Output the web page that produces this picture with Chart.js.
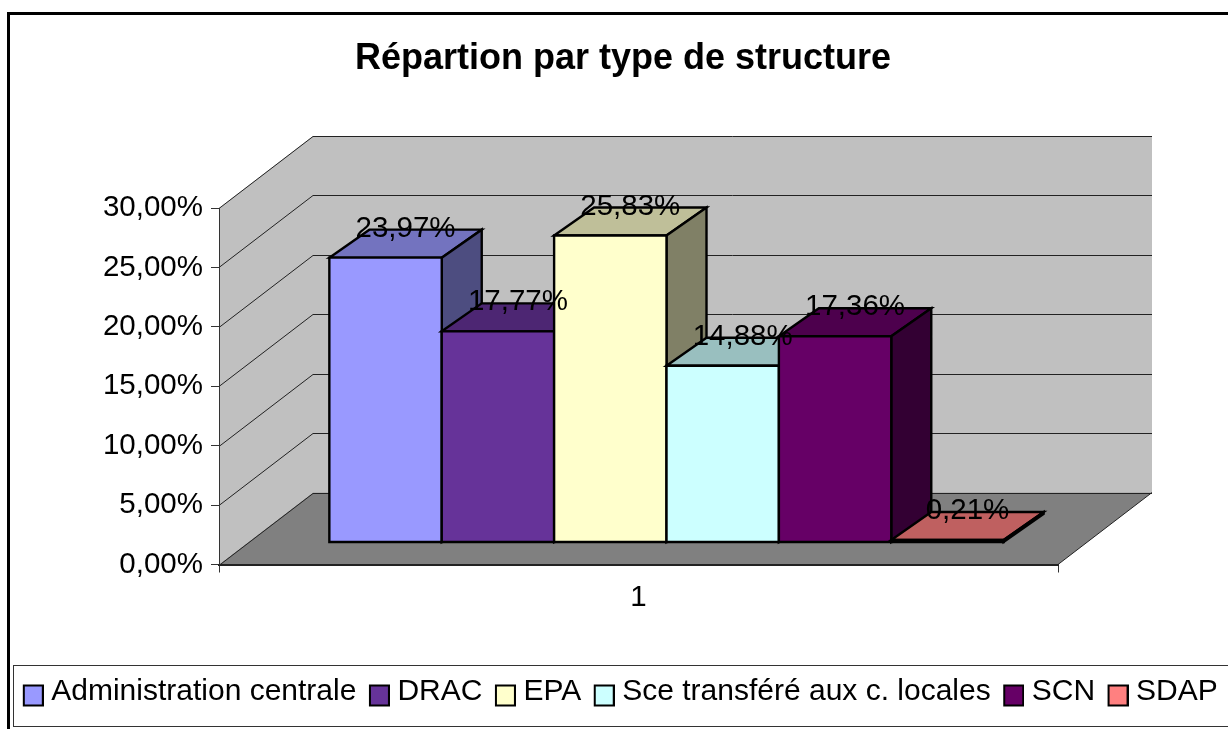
<!DOCTYPE html>
<html>
<head>
<meta charset="utf-8">
<title>Répartion par type de structure</title>
<script src="https://cdn.jsdelivr.net/npm/chart.js@4"></script>
<style>
  html, body { margin: 0; padding: 0; background: #fff; overflow: hidden; }
  canvas { display: block; }
</style>
</head>
<body>
<canvas id="structureChart" width="1228" height="729"></canvas>
<script>
const categories = ['1'];
const seriesNames = ['Administration centrale', 'DRAC', 'EPA', 'Sce transféré aux c. locales', 'SCN', 'SDAP'];
const seriesValues = [23.97, 17.77, 25.83, 14.88, 17.36, 0.21];
const seriesColors = ['#9999FF', '#663399', '#FFFFCC', '#CCFFFF', '#660066', '#FF8080'];

const FONT = '"Liberation Sans", Arial, sans-serif';
const TEXT_SIZE = 29.5;
const LEGEND_SIZE = 30;

// 3D look: full depth of the walls, and where the bars sit inside it
const WALL_DX = 94, WALL_DY = -72;
const BAR_SHIFT_X = 28, BAR_SHIFT_Y = -22;
const BAR_DX = 40, BAR_DY = -28;

const percent = v => v.toFixed(2).replace('.', ',') + '%';

function shade(hex, k) {
  const n = parseInt(hex.slice(1), 16);
  const c = [n >> 16, (n >> 8) & 255, n & 255].map(x => Math.round(x * k));
  return `rgb(${c[0]},${c[1]},${c[2]})`;
}

function poly(ctx, pts, fill, stroke, width) {
  ctx.beginPath();
  pts.forEach((p, i) => i ? ctx.lineTo(p[0], p[1]) : ctx.moveTo(p[0], p[1]));
  ctx.closePath();
  if (fill) { ctx.fillStyle = fill; ctx.fill(); }
  if (stroke) { ctx.strokeStyle = stroke; ctx.lineWidth = width; ctx.lineJoin = 'miter'; ctx.stroke(); }
}

function swatch(color) {
  // canvas is bigger than the box: box sits right of and under the centre of it
  const c = document.createElement('canvas');
  c.width = 28; c.height = 32;
  const g = c.getContext('2d');
  g.fillStyle = color;
  g.fillRect(8, 10, 20, 20);
  g.strokeStyle = '#000';
  g.lineWidth = 2;
  g.strokeRect(8, 10, 19, 20);
  return c;
}

const walls3d = {
  id: 'walls3d',
  afterLayout(chart) {
    // title and legend are not centred on the canvas in the original
    chart.titleBlock.left += 9;
    chart.titleBlock.right += 9;
    chart.legend.left += 6.5;
    chart.legend.right += 6.5;
  },
  beforeDraw(chart) {
    const { ctx, chartArea: a, scales: { y } } = chart;
    const y0 = y.getPixelForValue(0), yTop = y.getPixelForValue(30);
    ctx.save();
    // outer frame and legend frame
    ctx.strokeStyle = '#000';
    ctx.lineWidth = 3;
    ctx.beginPath();
    ctx.moveTo(8.5, 729); ctx.lineTo(8.5, 13.5); ctx.lineTo(1228, 13.5);
    ctx.stroke();
    ctx.strokeStyle = '#333';
    ctx.lineWidth = 1;
    ctx.strokeRect(13.5, 665.5, 1220, 61);
    // side wall, back wall, floor
    poly(ctx, [[a.left, yTop], [a.left + WALL_DX, yTop + WALL_DY], [a.left + WALL_DX, y0 + WALL_DY], [a.left, y0]], '#C0C0C0');
    poly(ctx, [[a.left + WALL_DX, yTop + WALL_DY], [a.right + WALL_DX, yTop + WALL_DY], [a.right + WALL_DX, y0 + WALL_DY], [a.left + WALL_DX, y0 + WALL_DY]], '#C0C0C0');
    poly(ctx, [[a.left, y0], [a.left + WALL_DX, y0 + WALL_DY], [a.right + WALL_DX, y0 + WALL_DY], [a.right, y0]], '#808080');
    // grid lines follow the y scale ticks
    ctx.strokeStyle = '#222';
    ctx.lineWidth = 1;
    y.ticks.forEach(t => {
      const py = Math.round(y.getPixelForValue(t.value)) + 0.5;
      ctx.beginPath();
      ctx.moveTo(a.left, py);
      ctx.lineTo(a.left + WALL_DX, py + WALL_DY);
      ctx.lineTo(a.right + WALL_DX, py + WALL_DY);
      ctx.stroke();
    });
    ctx.beginPath();
    ctx.moveTo(a.right, y0);
    ctx.lineTo(a.right + WALL_DX, y0 + WALL_DY);
    ctx.stroke();
    ctx.restore();
  },
  // drawn here so the series go left to right, chart.js would go the other way
  beforeDatasetsDraw(chart) {
    const { ctx } = chart;
    ctx.save();
    ctx.translate(BAR_SHIFT_X, BAR_SHIFT_Y);
    const metas = seriesValues.map((v, i) => chart.getDatasetMeta(i));
    metas.forEach((meta, i) => {
      const bar = meta.data[0];
      const { x, y, base, width } = bar.getProps(['x', 'y', 'base', 'width'], true);
      const l = x - width / 2, r = x + width / 2;
      poly(ctx, [[l, y], [l + BAR_DX, y + BAR_DY], [r + BAR_DX, y + BAR_DY], [r, y]], shade(seriesColors[i], 0.75), '#000', 2.4);
      poly(ctx, [[r, y], [r + BAR_DX, y + BAR_DY], [r + BAR_DX, base + BAR_DY], [r, base]], shade(seriesColors[i], 0.5), '#000', 2.4);
      bar.draw(ctx, chart.chartArea);
      poly(ctx, [[l, y], [r, y], [r, base], [l, base]], null, '#000', 2.4);
    });
    // value labels go over every bar
    ctx.fillStyle = '#000';
    ctx.font = `${TEXT_SIZE}px ${FONT}`;
    ctx.textAlign = 'center';
    ctx.textBaseline = 'middle';
    metas.forEach((meta, i) => {
      const { x, y } = meta.data[0].getProps(['x', 'y'], true);
      ctx.fillText(percent(seriesValues[i]), x + BAR_DX / 2, y - 29);
    });
    ctx.restore();
    return false;
  }
};

const structureChart = new Chart(document.getElementById('structureChart').getContext('2d'), {
  type: 'bar',
  data: {
    labels: categories,
    datasets: seriesNames.map((name, i) => ({
      label: name,
      data: [seriesValues[i]],
      backgroundColor: seriesColors[i],
      borderWidth: 0,
      barPercentage: 1,
      categoryPercentage: 0.8037
    }))
  },
  options: {
    responsive: false,
    animation: false,
    layout: { padding: { left: 0, right: 0, top: 0, bottom: 12.5 } },
    scales: {
      x: {
        grid: { drawOnChartArea: false, offset: true, tickLength: 8, color: '#333' },
        border: { color: '#222', width: 2 },
        ticks: { color: '#000', font: { family: FONT, size: TEXT_SIZE }, padding: 8 },
        afterFit: s => { s.height = 99; }
      },
      y: {
        min: 0,
        max: 30,
        grid: { drawOnChartArea: false, tickLength: 8, color: '#333' },
        border: { color: '#333', width: 1 },
        ticks: { stepSize: 5, color: '#000', font: { family: FONT, size: TEXT_SIZE }, padding: 8, callback: percent },
        afterFit: s => { s.width = 219; }
      },
      // only holds the empty strip right of the floor
      pad: {
        position: 'right',
        type: 'linear',
        grid: { display: false },
        border: { display: false },
        ticks: { display: false },
        afterFit: s => { s.width = 170; }
      }
    },
    plugins: {
      title: {
        display: true,
        text: 'Répartion par type de structure',
        color: '#000',
        font: { family: FONT, size: 36, weight: 'bold' },
        padding: { top: 37.4, bottom: 127.4 }
      },
      legend: {
        position: 'bottom',
        labels: {
          color: '#000',
          font: { family: FONT, size: LEGEND_SIZE },
          usePointStyle: true,
          pointStyleWidth: 13,
          padding: 13,
          generateLabels: chart => Chart.defaults.plugins.legend.labels.generateLabels(chart).map((item, i) => {
            item.pointStyle = swatch(seriesColors[i]);
            return item;
          })
        }
      },
      tooltip: { enabled: false }
    }
  },
  plugins: [walls3d]
});
</script>
</body>
</html>
